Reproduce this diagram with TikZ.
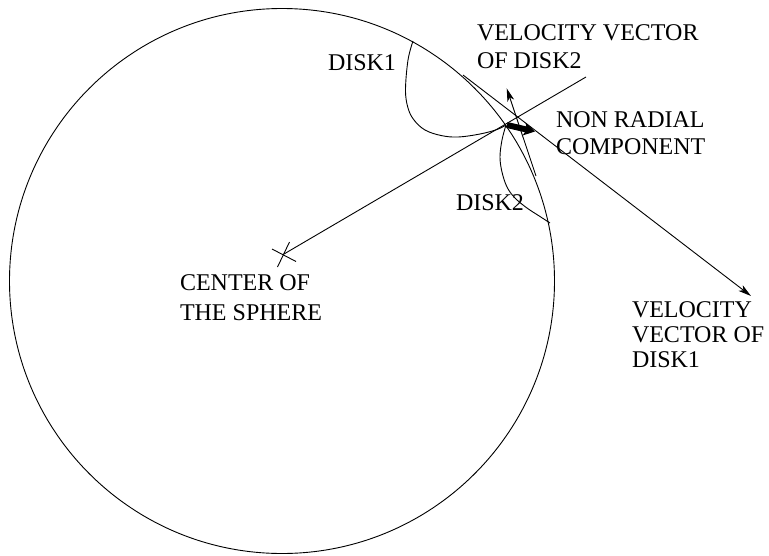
\documentclass[tikz,border=0pt]{standalone}
\usepackage{fontspec}
\setmainfont{Liberation Serif}
\usetikzlibrary{arrows.meta}
\tikzset{
  thinline/.style={line width=0.9pt, black},
  lbl/.style={anchor=north west, inner sep=0pt, outer sep=0pt, align=left},
  vtip/.style={-{Stealth[length=13pt,width=7pt,inset=3.5pt]}},
}
\begin{document}
\begin{tikzpicture}[x=1pt,y=-1pt]
\useasboundingbox (0,0) rectangle (769,555);
% key points
\coordinate (O) at (282,281);
\coordinate (C) at (284,254);
\coordinate (P) at (506,125);
\coordinate (Rend) at (586,77);
\coordinate (Tstart) at (463,75);
\coordinate (Ttip) at (751,296);
\coordinate (V2tail) at (536,176);
\coordinate (V2tip) at (506.7,88.3);
\coordinate (NRs) at (507,125);
\coordinate (NRe) at (535,131.5);
% sphere
\draw[thinline] (O) circle[radius=272.5];
% center cross
\draw[thinline] (272,249) -- (296,261.5);
\draw[thinline] (289.5,242) -- (277.5,267);
% radial line
\draw[thinline] (C) -- (Rend);
% velocity vector of disk1 (tangent)
\draw[thinline, vtip] (Tstart) -- (Ttip);
% velocity vector of disk2
\draw[thinline, vtip] (V2tail) -- (V2tip);
% non radial component
\draw[line width=6pt, -{Stealth[length=11pt,width=13pt,inset=2.5pt]}] (NRs) -- (NRe);
% disk1 curve
\draw[thinline] plot[smooth, tension=0.6] coordinates {(413,41) (408,60) (405.5,90) (408,108) (414,120) (425,130) (441,135.5) (458,137) (480,134) (497,129.5) (506,125)};
% disk2 curve
\draw[thinline] plot[smooth, tension=0.6] coordinates {(506,125) (502,140) (500,157) (502,172) (507,187) (515,198) (527,208) (540,216.5) (550,223)};
% labels
\node[lbl, font=\fontsize{24}{28}\selectfont] (tDiskA) at (328,55) {DISK1};
\node[lbl, font=\fontsize{24}{28}\selectfont] (tVelB) at (477,25) {VELOCITY VECTOR\\OF DISK2};
\node[lbl, font=\fontsize{24}{26.7}\selectfont] (tNonRad) at (556,112) {NON RADIAL\\COMPONENT};
\node[lbl, font=\fontsize{24}{28}\selectfont] (tDiskB) at (456,195) {DISK2};
\node[lbl, font=\fontsize{24}{29.5}\selectfont] (tCenter) at (180,275) {CENTER OF\\THE SPHERE};
\node[lbl, font=\fontsize{24}{25}\selectfont] (tVelA) at (632,302) {VELOCITY\\VECTOR OF\\DISK1};
\end{tikzpicture}
\end{document}
